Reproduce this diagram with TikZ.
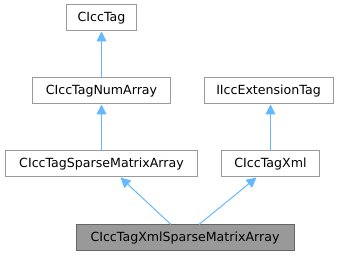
\documentclass[tikz,border=0pt]{standalone}
\usepackage{fontspec}
\setmainfont{DejaVu Sans}
\definecolor{edgeBlue}{HTML}{63B8FF}
\definecolor{boxGrey}{HTML}{999999}
\definecolor{boxDark}{HTML}{666666}
\usetikzlibrary{arrows.meta}
\tikzset{
  classbox/.style={draw=boxGrey, line width=1pt, fill=white, minimum height=26pt, inner sep=0pt, font=\fontsize{12.6}{14}\selectfont},
  curbox/.style={classbox, draw=boxDark, fill=boxGrey},
  inherit/.style={-{Triangle[length=10pt,width=10pt]}, edgeBlue, line width=1pt}
}
\begin{document}
\begin{tikzpicture}[x=1pt,y=1pt]
\useasboundingbox (0,0) rectangle (341,256);
% base classes
\node[classbox, minimum width=70pt] (tag) at (101.5,238) {CIccTag};
\node[classbox, minimum width=138pt] (numarr) at (101.5,165) {CIccTagNumArray};
\node[classbox, minimum width=129pt] (ext) at (268.5,165) {IIccExtensionTag};
\node[classbox, minimum width=192pt] (sparse) at (101.5,92) {CIccTagSparseMatrixArray};
\node[classbox, minimum width=98pt] (xml) at (270.5,92) {CIccTagXml};
% the documented class
\node[curbox, minimum width=218pt] (xmlsparse) at (185,18) {CIccTagXmlSparseMatrixArray};
\draw[inherit] (numarr.north) -- (tag.south);
\draw[inherit] (sparse.north) -- (numarr.south);
\draw[inherit] (xml.north) -- (xml.north |- ext.south);
\draw[inherit] ([xshift=-14pt]xmlsparse.north) -- ([xshift=19pt]sparse.south);
\draw[inherit] ([xshift=14pt]xmlsparse.north) -- ([xshift=-14pt]xml.south);
\end{tikzpicture}
\end{document}
